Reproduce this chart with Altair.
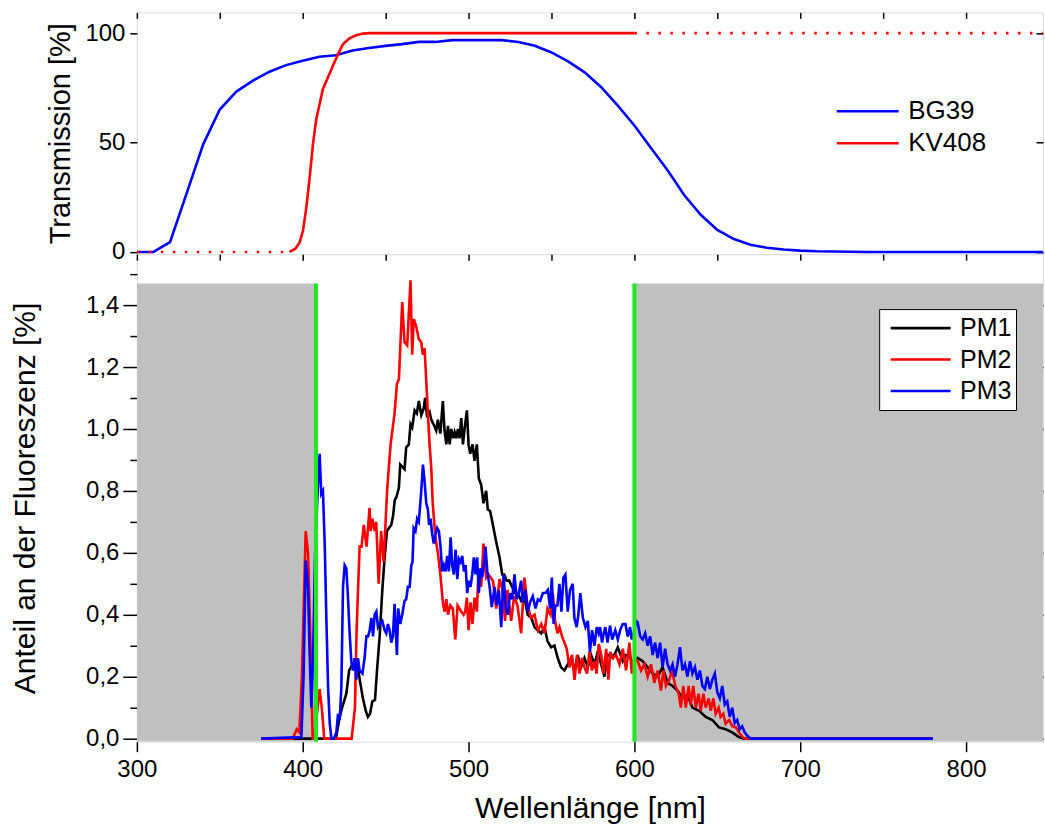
import altair as alt
import pandas as pd

FONT = "Liberation Sans"

# ---------------- top panel: filter transmission ----------------
bg39_wl = [300, 310, 320, 330, 340, 350, 360, 370, 380, 390, 400, 410, 420, 430, 440,
           450, 460, 470, 480, 490, 500, 510, 520, 530, 540, 550, 560, 570, 580, 590,
           600, 610, 620, 630, 640, 650, 660, 670, 680, 690, 700, 710, 720, 730, 740, 850]
bg39_t = [0, 0, 4.5, 26.8, 49.2, 65.1, 73.3, 78.3, 82.4, 85.4, 87.4, 89.2, 89.9, 92.1, 93.2,
          94.2, 95.0, 96.0, 96.0, 96.8, 96.8, 96.8, 96.8, 96.0, 94.2, 91.2, 87.1, 82.1, 75.3, 66.9,
          57.8, 47.5, 37.4, 26.0, 17.0, 10.1, 5.9, 3.3, 1.9, 1.1, 0.6, 0.3, 0.2, 0.1, 0, 0]

kv408_wl = [392, 395.6, 398.2, 400.2, 402.2, 404.2, 406.2, 408.2, 410.2, 412.2, 415.2,
            418.2, 421.3, 424.3, 428.3, 432.3, 436.3, 440.4, 600]
kv408_t = [0, 1.5, 4.5, 9.8, 20.4, 34.1, 49.4, 60.8, 67.6, 74.5, 79.7,
           85.1, 90.4, 95.0, 97.7, 99.1, 99.8, 100, 100]

# extrapolated (dotted) parts of KV408
kv408_dot_wl = [300, 392, 600, 850]
kv408_dot_t = [0, 0, 100, 100]
kv408_dot_seg = ["low", "low", "high", "high"]

# ---------------- bottom panel: fluorescence share ----------------
pm1_wl = [375, 420, 422.3, 424.3, 426.3, 428, 430, 432, 433.5, 434.7, 436.3, 438, 439.3, 440.6,
          442, 443.6, 444.8, 446.4, 448, 449.4, 450.8, 452, 453.4, 454.5, 455.5, 456.5, 458,
          458.8, 461.4, 462.4, 464, 465, 466, 467.5, 468.8, 470, 471.5, 472.9, 473.8, 474.9,
          476.5, 477.5, 478.9, 480.5, 481.5, 483, 484.5, 485.5, 486.6, 487.6, 488.6, 489.6,
          490.6, 491.6, 492.6, 493.6, 494.6, 495.6, 496.6, 497.6, 499, 500, 501, 502.4, 503.6,
          505, 506.2, 507.6, 509, 510.6, 511.6, 513, 514.7, 516.5, 518.7, 520.3, 521.5, 523,
          524.5, 526.3, 527.8, 529.7, 531.7, 533.7, 535.7, 537.8, 539.8, 541.8, 543.8, 545.8,
          547.6, 549.8, 551.8, 553.8, 555.8, 557.8, 559.8, 561.8, 563.8, 565.8, 567.8, 569.9,
          571.9, 573.9, 575.9, 577.9, 579.9, 581.9, 583.8, 585.5, 587, 590, 593, 595, 597, 599,
          602, 605, 608, 611, 614, 617, 620, 623, 626, 629, 632, 635, 639, 643, 647, 651, 655,
          659, 663, 666, 780]
pm1_v = [0, 0, 0.07, 0.11, 0.145, 0.22, 0.24, 0.23, 0.22, 0.18, 0.13, 0.09, 0.07, 0.08,
         0.12, 0.125, 0.22, 0.33, 0.48, 0.585, 0.67, 0.68, 0.69, 0.72, 0.77, 0.78, 0.81,
         0.885, 0.87, 0.94, 0.95, 1.015, 1.005, 1.06, 1.05, 1.09, 1.045, 1.065, 1.10, 1.045,
         1.055, 1.03, 1.015, 0.995, 1.03, 0.985, 1.09, 0.995, 0.95, 1.01, 0.95, 1.0,
         0.97, 0.99, 0.97, 1.0, 0.97, 1.035, 0.95, 1.0, 1.06, 0.95, 0.92, 0.95, 0.897,
         0.95, 0.84, 0.82, 0.76, 0.80, 0.74, 0.735, 0.69, 0.64, 0.585, 0.53, 0.53, 0.51,
         0.51, 0.49, 0.47, 0.47, 0.445, 0.455, 0.40, 0.39, 0.36, 0.35, 0.34, 0.36,
         0.315, 0.295, 0.30, 0.26, 0.23, 0.22, 0.24, 0.26, 0.22, 0.27, 0.23, 0.26,
         0.23, 0.27, 0.24, 0.28, 0.24, 0.20, 0.27, 0.27, 0.26, 0.295, 0.25, 0.27, 0.27, 0.24,
         0.26, 0.25, 0.23, 0.21, 0.20, 0.23, 0.18, 0.17, 0.155, 0.13, 0.14, 0.10, 0.09, 0.07,
         0.06, 0.036, 0.03, 0.02, 0.005, 0, 0]

pm2_wl = [375, 394, 396.4, 398, 399.5, 401.8, 403.2, 404.5, 406, 407, 409, 410.2, 411.5, 413,
          429.5, 431.5, 432.5, 434.3, 435.5, 436.8, 438.5, 440.3, 441, 442, 443.5, 444.3,
          445.8, 447.3, 448.8, 451, 453, 455.4, 456.8, 458, 460, 461.4, 463, 465, 466, 467,
          468.5, 470, 471.5, 472.4, 473.5, 474.5, 475.4, 476.5, 477.5, 478.4, 480, 481.5, 483,
          484.6, 485.6, 486.6, 487.6, 489, 490.5, 492, 493.4, 495.6, 497, 498, 499, 500,
          501.2, 502.4, 503.6, 505, 506, 507.6, 509, 510.6, 512, 514.7, 516.7, 518.7, 520.5,
          522, 523.5, 525.7, 527.5, 529.5, 531.7, 533.7, 535.5, 537.7, 539.8, 541.8, 543.8,
          545.8, 547.6, 549.5, 550.8, 552.2, 553.6, 554.8, 556.4, 557.8, 559.2, 560.8, 562.4,
          563.9, 565.4, 566.9, 568.4, 569.9, 571.4, 572.9, 574.4, 575.9, 577.2, 578.5, 580,
          581.3, 583, 584.3, 585.5, 587, 589, 591, 593, 595, 597, 598.4, 600, 602, 604, 606,
          608, 610, 612, 614, 616, 617.5, 619, 621, 622.7, 624.7, 626.7, 628, 629.5, 631,
          632.7, 634, 635.5, 637, 638.7, 640, 641.6, 643, 644.8, 646, 647.6, 649, 650.8, 652,
          653.6, 655, 657.2, 659, 661.3, 663, 665.2, 667, 780]
pm2_v = [0, 0, 0.03, 0.02, 0.2, 0.67, 0.6, 0.35, 0.0, 0, 0.1, 0.16, 0.1, 0,
         0, 0.1, 0.35, 0.62, 0.62, 0.69, 0.62, 0.745, 0.67, 0.71, 0.67, 0.70,
         0.50, 0.67, 0.57, 0.81, 0.95, 1.05, 1.145, 1.16, 1.41, 1.28, 1.27, 1.48, 1.24, 1.355,
         1.33, 1.29, 1.28, 1.24, 1.26, 1.155, 1.06, 0.95, 0.875, 0.76, 0.65, 0.60, 0.53,
         0.435, 0.41, 0.45, 0.40, 0.43, 0.42, 0.32, 0.43, 0.41, 0.40, 0.41, 0.455, 0.35,
         0.44, 0.37, 0.455, 0.41, 0.54, 0.49, 0.63, 0.52, 0.53, 0.51, 0.42, 0.515, 0.48,
         0.38, 0.48, 0.38, 0.46, 0.43, 0.34, 0.52, 0.43, 0.39, 0.40, 0.35, 0.37,
         0.34, 0.42, 0.40, 0.47, 0.38, 0.34, 0.36, 0.33, 0.31, 0.29, 0.23, 0.27,
         0.19, 0.27, 0.21, 0.26, 0.23, 0.21, 0.28, 0.22, 0.25, 0.21, 0.305, 0.27,
         0.21, 0.29, 0.19, 0.28, 0.26, 0.27, 0.24, 0.29, 0.22, 0.31, 0.21, 0.26, 0.25, 0.22, 0.24,
         0.20, 0.24, 0.18, 0.22, 0.155, 0.22, 0.17, 0.19, 0.22, 0.17, 0.145, 0.10, 0.17, 0.10,
         0.17, 0.11, 0.17, 0.10, 0.145, 0.09, 0.145, 0.10, 0.13, 0.09, 0.13, 0.08, 0.10, 0.07,
         0.08, 0.048, 0.06, 0.04, 0.036, 0.02, 0.005, 0, 0]

pm3_wl = [375, 399.2, 400.5, 401.8, 403.2, 404.2, 405.2, 406.2, 407.5, 409.2, 410.2, 411.2,
          412.2, 413.3, 414.3, 415.3, 416.3, 417.3, 418.7, 420.3, 421.3, 422.3, 423.3, 424.3,
          425.3, 426.3, 427.3, 428.3, 429.3, 430.3, 431.3, 432.3, 433.3, 434.3, 436, 437.3,
          438.4, 439.4, 440.4, 441.4, 442.4, 443.4, 444.4, 445.4, 446.4, 448, 449.4, 450.4,
          451.4, 452.4, 453.4, 454.4, 455.4, 456.8, 457.6, 458.8, 460, 461.4, 462.4, 463.4,
          464.5, 465.5, 466.2, 466.9, 468, 469, 470, 471.5, 472.5, 473.5, 474.5, 475.5, 476.2,
          477.1, 478.1, 479, 480.1, 481.1, 482.1, 483.1, 484.1, 485.1, 486.1, 487.1, 488.1,
          489.2, 490.1, 491.1, 492.2, 493.2, 494.2, 495.2, 496.2, 497.2, 498.2, 499.2, 500.2,
          501.2, 502.2, 503.2, 504.2, 505.2, 506.2, 507.2, 508.2, 509.2, 510.2, 511.3, 512.7,
          514, 515.7, 517, 518.3, 519.7, 521.1, 522.5, 523.7, 525, 526.3, 527.7, 529, 530.3,
          531.7, 532.7, 534.3, 535.7, 537.1, 538.7, 540.4, 541.8, 543.2, 544.8, 546.4, 547.8,
          549.2, 550.2, 551.3, 552.4, 553.6, 554.8, 556, 557.2, 558.4, 559.8, 561.2, 562.8,
          563.8, 565.2, 566.2, 567.4, 568.9, 570.5, 571.9, 573.2, 574.5, 575.9, 577.3, 578.5,
          579.3, 580.5, 581.5, 582.5, 583.8, 585.3, 586.6, 588.5, 590, 591.4, 593, 594.6, 596,
          597.4, 598.4, 600, 601, 602, 603.5, 605, 606.5, 608, 609.5, 611, 612.5, 614, 615.5,
          617, 618.5, 620, 621.5, 623, 624.5, 626, 627.5, 629, 630.5, 632, 633.5, 635, 636.5,
          638, 639.5, 641, 642.5, 644, 645.5, 647, 648.5, 650, 651.5, 653, 654.5, 656, 657.5,
          659, 660.5, 662, 663.5, 665, 666.5, 668, 670, 780]
pm3_v = [0, 0.005, 0.2, 0.575, 0.49, 0.27, 0.10, 0.25, 0.6, 0.82, 0.92, 0.79,
         0.80, 0.62, 0.38, 0.165, 0.05, 0, 0, 0.02, 0.08, 0.06, 0.165, 0.49,
         0.56, 0.55, 0.455, 0.34, 0.25, 0.22, 0.26, 0.19, 0.26, 0.22, 0.21, 0.26,
         0.33, 0.33, 0.35, 0.39, 0.33, 0.40, 0.41, 0.36, 0.37, 0.38, 0.35, 0.34,
         0.37, 0.35, 0.31, 0.33, 0.435, 0.27, 0.42, 0.37, 0.40, 0.445, 0.45, 0.49,
         0.49, 0.56, 0.57, 0.68, 0.67, 0.71, 0.70, 0.80, 0.885, 0.83, 0.76, 0.74, 0.69,
         0.71, 0.66, 0.63, 0.66, 0.68, 0.67, 0.62, 0.54, 0.56, 0.54, 0.59, 0.54,
         0.65, 0.56, 0.53, 0.61, 0.515, 0.58, 0.57, 0.59, 0.54, 0.56, 0.47, 0.51,
         0.49, 0.53, 0.585, 0.53, 0.585, 0.47, 0.55, 0.52, 0.56, 0.62, 0.54, 0.49,
         0.425, 0.49, 0.43, 0.48, 0.36, 0.53, 0.42, 0.40, 0.47, 0.45, 0.53, 0.45, 0.47,
         0.51, 0.44, 0.48, 0.41, 0.44, 0.46, 0.42, 0.45, 0.445, 0.47, 0.47, 0.48,
         0.42, 0.52, 0.37, 0.43, 0.43, 0.50, 0.41, 0.52, 0.53, 0.41, 0.48, 0.50,
         0.39, 0.36, 0.40, 0.47, 0.39, 0.36, 0.38, 0.28, 0.35, 0.30, 0.36, 0.34,
         0.36, 0.31, 0.34, 0.36, 0.31, 0.365, 0.32, 0.35, 0.32, 0.35, 0.37, 0.37, 0.33,
         0.36, 0.32, 0.35, 0.38, 0.375, 0.33, 0.32, 0.34, 0.30, 0.33, 0.27, 0.31, 0.26, 0.31,
         0.23, 0.29, 0.24, 0.22, 0.24, 0.20, 0.24, 0.295, 0.22, 0.24, 0.20, 0.25, 0.21, 0.23,
         0.19, 0.22, 0.17, 0.16, 0.20, 0.16, 0.19, 0.21, 0.15, 0.13, 0.17, 0.11, 0.12, 0.07,
         0.10, 0.05, 0.06, 0.03, 0.04, 0.02, 0.01, 0, 0]

shade_start = [300, 600]
shade_end = [408, 850]
shade_top = [1.47, 1.47]
marker_wl = [408, 600]

# tick values
top_y_ticks = [0, 50, 100]
bot_y_ticks = [0, 0.2, 0.4, 0.6, 0.8, 1.0, 1.2, 1.4]
bot_y_minor = [0.1, 0.3, 0.5, 0.7, 0.9, 1.1, 1.3, 1.5]
x_ticks = [300, 400, 500, 600, 700, 800]
x_inner_ticks = [300, 350, 400, 450, 500, 550, 600, 650, 700, 750, 800, 850]

# ---------------- frames ----------------
trans = pd.concat([
    pd.DataFrame({"wl": bg39_wl, "t": bg39_t, "series": "BG39"}),
    pd.DataFrame({"wl": kv408_wl, "t": kv408_t, "series": "KV408"}),
])
trans_dot = pd.DataFrame({"wl": kv408_dot_wl, "t": kv408_dot_t, "seg": kv408_dot_seg})
fluo = pd.concat([
    pd.DataFrame({"wl": pm1_wl, "v": pm1_v, "series": "PM1"}),
    pd.DataFrame({"wl": pm2_wl, "v": pm2_v, "series": "PM2"}),
    pd.DataFrame({"wl": pm3_wl, "v": pm3_v, "series": "PM3"}),
])
shade = pd.DataFrame({"start": shade_start, "end": shade_end, "top": shade_top})
markers = pd.DataFrame({"wl": marker_wl, "top": shade_top})

W = 907
H_TOP = 242
H_BOT = 488
X_DOM = [300, 300 + W / 1.66]

xs = alt.Scale(domain=X_DOM, nice=False, zero=False)
ys_top = alt.Scale(domain=[-1, 109.5], nice=False, zero=False)
ys_bot = alt.Scale(domain=[-0.01, 1.5645], nice=False, zero=False)

comma = "replace(format(datum.value, '.1f'), '.', ',')"

inner_top = dict(orient="top", offset=-6, tickSize=6, labels=False, domain=False,
                 grid=False, title=None, tickColor="black", tickWidth=1.5)
inner_right = dict(orient="right", offset=-7, tickSize=7, labels=False, domain=False,
                   grid=False, title=None, tickColor="black", tickWidth=1.5)

# ---------------- top chart ----------------
top_lines = alt.Chart(trans).mark_line(strokeWidth=2.6, clip=True).encode(
    x=alt.X("wl:Q", scale=xs, axis=alt.Axis(values=x_inner_ticks, **inner_top)),
    y=alt.Y("t:Q", scale=ys_top, axis=alt.Axis(
        orient="left", values=top_y_ticks, tickSize=7, tickColor="black", tickWidth=1.5,
        domain=False, grid=False, labelFontSize=24, labelPadding=5, labelFlush=False,
        title="Transmission [%]", titleFontSize=29, titlePadding=9, titleFontWeight="normal")),
    color=alt.Color("series:N",
                    scale=alt.Scale(domain=["BG39", "KV408"], range=["#0000ff", "#ff0000"]),
                    legend=alt.Legend(orient="none", legendX=699, legendY=83, title=None,
                                      symbolType="stroke", symbolSize=3844, symbolStrokeWidth=2.6,
                                      clipHeight=32, labelFontSize=26, labelOffset=8,
                                      rowPadding=0, padding=0)),
)
top_dots = alt.Chart(trans_dot).mark_line(strokeWidth=2.6, color="#ff0000",
                                          strokeDash=[2.5, 9.5], clip=True).encode(
    x=alt.X("wl:Q", scale=xs, axis=None),
    y=alt.Y("t:Q", scale=ys_top, axis=alt.Axis(values=top_y_ticks, **inner_right)),
    detail="seg:N",
)
top = alt.layer(top_lines, top_dots).resolve_scale(x="independent", y="independent").properties(
    width=W, height=H_TOP)

# ---------------- bottom chart ----------------
shade_layer = alt.Chart(shade).mark_rect(color="#c0c0c0", clip=True).encode(
    x=alt.X("start:Q", scale=xs, axis=None),
    x2="end:Q",
    y=alt.Y("top:Q", scale=ys_bot, axis=alt.Axis(
        orient="left", values=bot_y_minor, tickSize=7, tickColor="black", tickWidth=1.5,
        labels=False, domain=False, grid=False, title=None)),
    y2=alt.value(H_BOT),
)
curves = alt.Chart(fluo).mark_line(strokeWidth=2.6, clip=True).encode(
    x=alt.X("wl:Q", scale=xs, axis=alt.Axis(
        orient="bottom", values=x_ticks, tickSize=10, tickColor="black",
        tickWidth=1.5, domain=False, grid=False, labelFontSize=24, labelPadding=6,
        labelFlush=False,
        title="Wellenlänge [nm]", titleFontSize=30, titlePadding=12, titleFontWeight="normal")),
    y=alt.Y("v:Q", scale=ys_bot, axis=alt.Axis(
        orient="left", values=bot_y_ticks, labelExpr=comma,
        tickSize=14, tickColor="black", tickWidth=1.5, domain=False, grid=False,
        labelFontSize=24, labelPadding=4, labelFlush=False,
        title="Anteil an der Fluoreszenz [%]", titleFontSize=30, titlePadding=45,
        titleFontWeight="normal")),
    color=alt.Color("series:N",
                    scale=alt.Scale(domain=["PM1", "PM2", "PM3"],
                                    range=["#000000", "#ff0000", "#0000ff"]),
                    legend=alt.Legend(orient="none", legendX=743, legendY=55, title=None,
                                      symbolType="stroke", symbolSize=3600, symbolStrokeWidth=2.6,
                                      symbolOffset=6,
                                      clipHeight=30, labelFontSize=25, labelOffset=8,
                                      rowPadding=1.5, padding=4, fillColor="white",
                                      strokeColor="black")),
)
green = alt.Chart(markers).mark_rule(color="#1fe81f", strokeWidth=4).encode(
    x=alt.X("wl:Q", scale=xs, axis=alt.Axis(values=x_inner_ticks, **inner_top)),
    y=alt.Y("top:Q", scale=ys_bot, axis=alt.Axis(values=bot_y_ticks, **inner_right)),
    y2=alt.value(H_BOT),
)
bottom = alt.layer(shade_layer, curves, green).resolve_scale(
    x="independent", y="independent").properties(width=W, height=H_BOT)

chart = alt.vconcat(top, bottom, spacing=0, bounds="flush").resolve_scale(
    color="independent"
).properties(
    padding={"left": 10, "top": 10, "right": 0, "bottom": 0}
).configure_view(stroke="black", strokeWidth=1.5).configure_axis(
    labelFont=FONT, titleFont=FONT, labelColor="black", titleColor="black"
).configure_legend(labelFont=FONT, labelColor="black").configure(background="white")

chart.save("out.html", embed_options={"renderer": "svg", "actions": False})
